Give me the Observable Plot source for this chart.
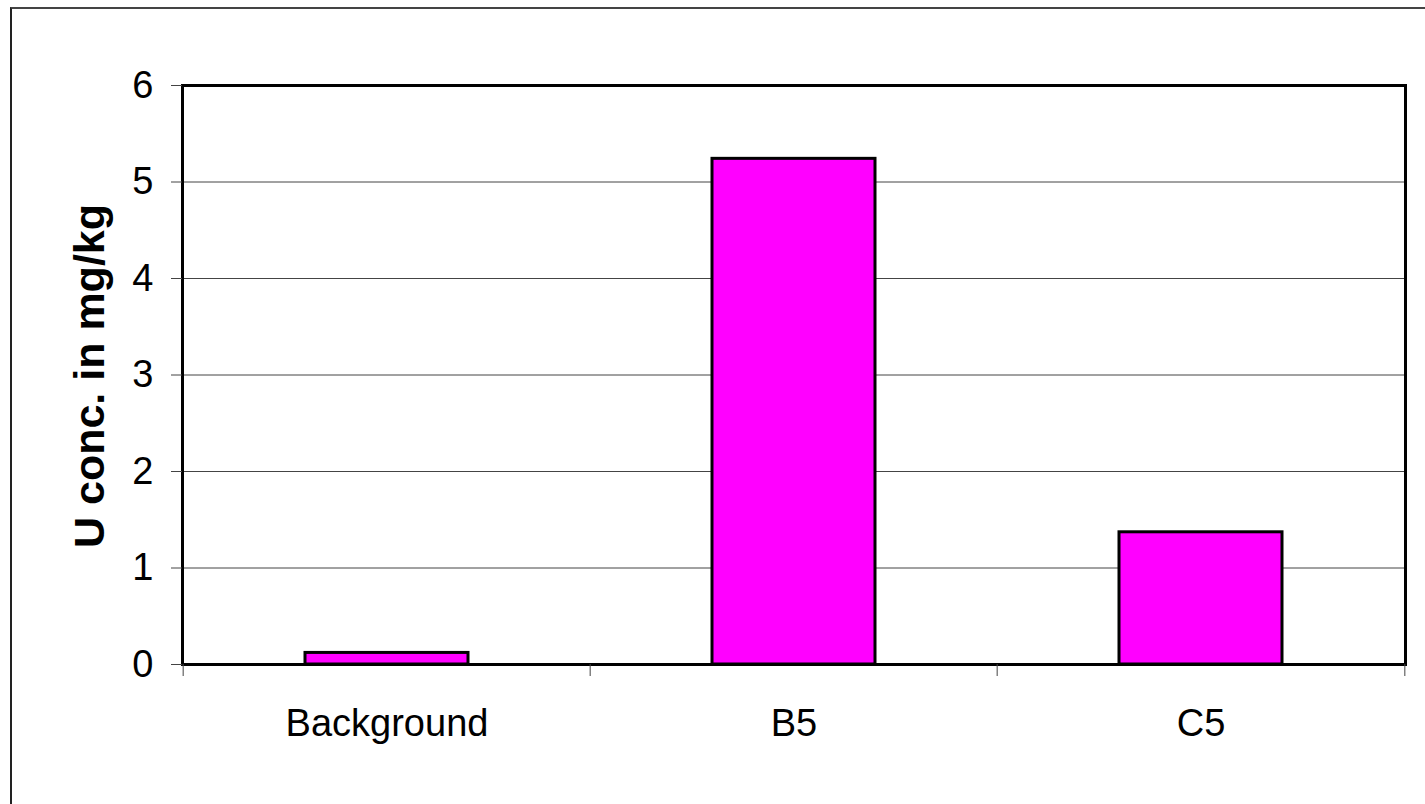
<!DOCTYPE html>
<html>
<head>
<meta charset="utf-8">
<script src="https://cdn.jsdelivr.net/npm/d3@7"></script>
<script src="https://cdn.jsdelivr.net/npm/@observablehq/plot@0.6"></script>
<style>
  html, body { margin: 0; padding: 0; background: #fff; }
  #wrap { position: relative; width: 1425px; height: 804px; overflow: hidden; font-family: "Liberation Sans", Arial, sans-serif; }
  #border { position: absolute; left: 10px; top: 7px; width: 1500px; height: 900px; border-left: 2px solid #222; border-top: 2px solid #444; box-sizing: border-box; }
  #chart { position: absolute; left: 0; top: 0; }
  #ylabel { position: absolute; left: 89px; top: 376px; transform: translate(-50%, -50%) rotate(-90deg); white-space: nowrap; font-weight: bold; font-size: 43px; color: #000; }
</style>
</head>
<body>
<div id="wrap">
  <div id="border"></div>
  <div id="chart"></div>
  <div id="ylabel">U conc. in mg/kg</div>
</div>
<script>
const categories = ["Background", "B5", "C5"];
const values = [0.12, 5.24, 1.37];
const yTicks = [0, 1, 2, 3, 4, 5, 6];
const yLabel = "U conc. in mg/kg";

const data = categories.map((c, i) => ({category: c, value: values[i]}));

const W = 1425, H = 804;
const mL = 182, mR = 20, mT = 85, mB = 140;
const step = (W - mL - mR) / categories.length;

document.getElementById("ylabel").textContent = yLabel;

const plot = Plot.plot({
  width: W,
  height: H,
  marginLeft: mL,
  marginRight: mR,
  marginTop: mT,
  marginBottom: mB,
  style: {fontFamily: "'Liberation Sans', Arial, sans-serif", background: "transparent", color: "#000"},
  x: {domain: categories, paddingInner: 0.6, paddingOuter: 0.3, label: null},
  y: {domain: [0, 6], label: null},
  marks: [
    Plot.gridY(yTicks, {stroke: "#444", strokeOpacity: 1, strokeWidth: 1}),
    Plot.barY(data, {x: "category", y: "value", fill: "#FF00FF", stroke: "#000", strokeWidth: 3, strokeLinejoin: "miter"}),
    Plot.frame({stroke: "#000", strokeWidth: 3}),
    Plot.axisY(yTicks, {tickSize: 11, tickPadding: 18, fontSize: 38, tickFormat: d3.format("d"), stroke: "#444", strokeWidth: 1, fill: "#000", label: null}),
    Plot.axisX({tickSize: 0, tickPadding: 45, fontSize: 38, fill: "#000", label: null}),
    Plot.ruleX(categories, {x: d => d, y1: 0, y2: 0, insetBottom: -12, dx: -step / 2, stroke: "#444", strokeWidth: 1}),
    Plot.ruleX(categories.slice(-1), {x: d => d, y1: 0, y2: 0, insetBottom: -12, dx: step / 2, stroke: "#444", strokeWidth: 1})
  ]
});
document.getElementById("chart").appendChild(plot);
</script>
</body>
</html>
